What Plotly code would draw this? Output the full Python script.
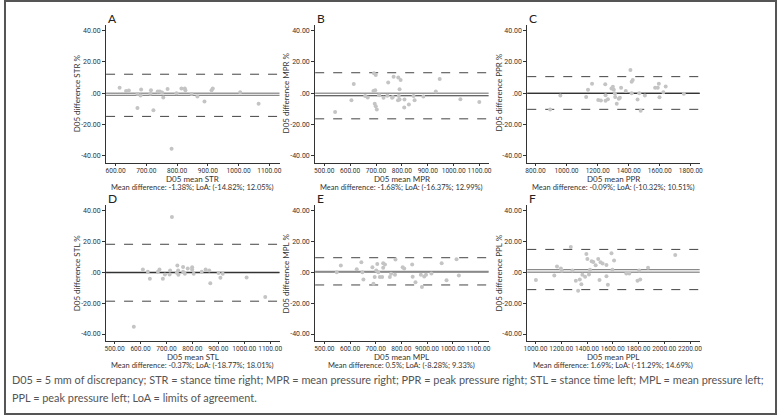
import plotly.graph_objects as go

# values (mean of the two measures, difference in %)
str_mean = [613, 634, 643, 671, 671, 683, 681, 715, 713, 723, 737, 744, 751, 755, 769, 782,
            798, 814, 825, 827, 847, 866, 889, 912, 916, 1005, 1065]
str_diff = [3.4, 1.3, 1.7, -9.4, -0.6, 2.3, -1.5, 1.9, -0.4, -10.9, 1.1, 1.1, 0.4, -2.8, 2.6, -35.5,
            0.0, 3.0, 3.0, 1.9, -0.6, -2.1, -5.3, 1.9, 3.0, 0.6, -6.8]

mpr_mean = [542, 605, 614, 658, 668, 690, 692, 699, 695, 699, 703, 697, 712, 729, 744, 747, 762, 768,
            765, 786, 795, 785, 791, 788, 791, 810, 809, 827, 845, 849, 883, 931, 946, 1026, 1099]
mpr_diff = [-12.0, -4.5, 5.8, -1.9, -2.8, 1.3, 12.7, 11.6, -6.7, -8.4, -10.5, 1.9, -1.3, -3.0, -1.7, 6.7,
            -3.0, 10.5, -2.4, 9.9, 8.4, -4.5, 2.4, -1.9, -4.1, -4.1, -9.2, -7.3, -1.9, -4.5, -2.1, 1.1,
            9.0, -3.9, -5.6]

ppr_mean = [894, 960, 1126, 1138, 1164, 1204, 1221, 1249, 1251, 1251, 1266, 1289, 1298, 1304, 1311, 1313,
            1336, 1343, 1323, 1351, 1381, 1411, 1419, 1426, 1419, 1457, 1468, 1477, 1504, 1570, 1587,
            1594, 1598, 1623, 1638, 1755]
ppr_diff = [-10.5, -1.5, -2.4, 2.1, 6.0, -4.3, -4.7, 5.6, -1.3, -4.9, -3.9, 3.0, 4.1, 2.1, -0.2, -2.4,
            -3.6, -3.0, -6.7, 3.4, 1.3, 14.8, 7.3, 8.4, 0.0, -4.1, 0.0, -11.2, -1.5, 3.4, 3.4, 6.0, -2.6,
            0.6, 4.3, -0.4]

stl_mean = [574, 609, 628, 636, 667, 673, 686, 694, 712, 714, 721, 740, 742, 746, 745, 764, 764, 771,
            782, 799, 799, 805, 836, 851, 865, 869, 901, 908, 917, 1009, 1081]
stl_diff = [-35.3, 1.7, 0.2, -4.3, 0.2, 1.7, -4.3, -1.5, -1.5, 1.1, 35.7, -0.4, 4.3, -1.7, 1.1, 3.4, 0.2,
            -1.1, 2.4, 3.2, 1.7, -1.1, 0.2, 1.7, 1.1, -7.1, -0.6, -3.6, -1.1, -3.4, -16.0]

mpl_mean = [548, 564, 626, 644, 648, 652, 687, 691, 696, 702, 706, 710, 716, 725, 729, 729, 736, 755,
            760, 777, 775, 805, 811, 842, 844, 855, 876, 880, 889, 896, 917, 957, 976, 1015, 1024]
mpl_diff = [0.0, 4.3, 1.9, 6.4, 0.0, -4.7, 3.2, -7.5, -3.2, 1.1, 5.3, 0.0, -3.2, -3.2, 2.8, 5.8, 4.9,
            -3.2, -1.1, 8.1, -1.7, 3.2, 2.4, 4.9, -3.0, -6.6, -1.7, -9.6, -2.8, -1.7, -0.9, 5.8, -5.3,
            8.3, -2.1]

ppl_mean = [1003, 1146, 1167, 1197, 1205, 1274, 1287, 1313, 1344, 1356, 1364, 1385, 1331, 1395, 1403,
            1415, 1423, 1436, 1449, 1467, 1487, 1497, 1505, 1521, 1551, 1551, 1562, 1590, 1597, 1610,
            1705, 1728, 1792, 1813, 1805, 1874, 2085]
ppl_diff = [-5.1, -2.1, 3.6, 2.4, 0.9, 16.2, 1.1, -5.6, -4.7, -7.9, -1.7, -3.0, -12.0, 11.8, 8.5, -1.5,
            1.5, 7.1, 6.6, 4.5, 8.5, -5.1, 6.4, 5.6, 4.7, -2.6, -8.1, 12.2, 1.5, 7.5, -0.9, -0.9, -5.6,
            -4.7, 1.1, 2.8, 11.1]

letters = ['A', 'B', 'C', 'D', 'E', 'F']
names = ['STR', 'MPR', 'PPR', 'STL', 'MPL', 'PPL']
mean_diff = [-1.38, -1.68, -0.09, -0.37, 0.5, 1.69]
loa_low = [-14.82, -16.37, -10.32, -18.77, -8.28, -11.29]
loa_high = [12.05, 12.99, 10.51, 18.01, 9.33, 14.69]

y_ticks = [-40, -20, 0, 20, 40]
y_tick_labels = ['-40.00', '-20.00', '.00', '20.00', '40.00']
x_ticks = [
    [600, 700, 800, 900, 1000, 1100],
    [500, 600, 700, 800, 900, 1000, 1100],
    [800, 1000, 1200, 1400, 1600, 1800],
    [500, 600, 700, 800, 900, 1000, 1100],
    [500, 600, 700, 800, 900, 1000, 1100],
    [1000, 1200, 1400, 1600, 1800, 2000, 2200],
]
x_tick_labels = [['%.2f' % v for v in t] for t in x_ticks]
x_tick_labels[4][4] = '9000.00'  # typo kept as printed

xs = [str_mean, mpr_mean, ppr_mean, stl_mean, mpl_mean, ppl_mean]
ys = [str_diff, mpr_diff, ppr_diff, stl_diff, mpl_diff, ppl_diff]

W, H = 780, 415
FONT = 'Lato'
TICKFONT = 'Roboto'
TXT = '#333'

# pixel boxes of the panels: (left, right), (top, bottom)
cols = [(103, 278), (314, 489), (528, 702)]
rows = [(25, 163), (205, 341)]
x_ranges = [[569, 1133], [465, 1135], [747, 1857], [467, 1136], [464, 1140], [936, 2275]]
mean_colors = ['#8a8a8a', '#333', '#333', '#333', '#8a8a8a', '#8a8a8a']

fig = go.Figure()
layout = dict(
    width=W, height=H,
    margin=dict(l=0, r=0, t=0, b=0),
    paper_bgcolor='white', plot_bgcolor='white',
    showlegend=False,
    font=dict(family=FONT, color=TXT),
)
shapes = []
annotations = []

for i in range(6):
    n = '' if i == 0 else str(i + 1)
    (x0, x1) = cols[i % 3]
    (y0, y1) = rows[i // 3]
    cx = (x0 + x1) / 2

    fig.add_trace(go.Scatter(
        x=xs[i], y=ys[i], mode='markers',
        marker=dict(color='#c4c4c4', size=4),
        xaxis='x' + n, yaxis='y' + n,
    ))

    layout['xaxis' + n] = dict(
        domain=[x0 / W, x1 / W], anchor='y' + n, range=x_ranges[i],
        tickvals=x_ticks[i], ticktext=x_tick_labels[i], tickangle=0,
        showgrid=False, zeroline=False, showline=True, linecolor='#333', linewidth=1,
        ticks='outside', ticklen=2, tickcolor='#333', ticklabelstandoff=-1,
        tickfont=dict(size=6.6, color=TXT, family=TICKFONT),
    )
    layout['yaxis' + n] = dict(
        domain=[1 - y1 / H, 1 - y0 / H], anchor='x' + n, range=[-44.5, 43.4],
        tickvals=y_ticks, ticktext=y_tick_labels,
        showgrid=False, zeroline=False, showline=True, linecolor='#333', linewidth=1,
        ticks='outside', ticklen=3, tickcolor='#333',
        tickfont=dict(size=7, color=TXT, family=TICKFONT),
    )

    xr = 'x' + n + ' domain'
    yr = 'y' + n
    shapes.append(dict(type='line', xref=xr, yref=yr, x0=0, x1=1, y0=0, y1=0,
                       line=dict(color='#9a9a9a', width=1.5), layer='below'))
    shapes.append(dict(type='line', xref=xr, yref=yr, x0=0, x1=1,
                       y0=mean_diff[i], y1=mean_diff[i],
                       line=dict(color=mean_colors[i], width=1.2), layer='below'))
    for v in (loa_low[i], loa_high[i]):
        shapes.append(dict(type='line', xref=xr, yref=yr, x0=0, x1=1, y0=v, y1=v,
                           line=dict(color='#444', width=1, dash='dash'), layer='below'))

    # panel letter
    annotations.append(dict(text=letters[i], x=x0 / W, y=1 - (y0 - 6) / H,
                            xref='paper', yref='paper', xanchor='left', yanchor='middle',
                            showarrow=False, font=dict(size=12, color='#222', family=FONT)))
    # y title
    annotations.append(dict(text='D05 difference %s %%' % names[i], textangle=-90,
                            x=(x0 - 29) / W, y=1 - (y0 + 68) / H,
                            xref='paper', yref='paper', xanchor='center', yanchor='middle',
                            showarrow=False, font=dict(size=8, color=TXT, family=FONT)))
    # x title
    annotations.append(dict(text='D05 mean %s' % names[i], x=cx / W, y=1 - (y1 + 16) / H,
                            xref='paper', yref='paper', xanchor='center', yanchor='middle',
                            showarrow=False, font=dict(size=8, color=TXT, family=FONT)))
    # summary line
    annotations.append(dict(
        text='Mean difference: %s%%; LoA: (%s%%; %s%%)' % (mean_diff[i], loa_low[i], loa_high[i]),
        x=cx / W, y=1 - (y1 + 24.5) / H,
        xref='paper', yref='paper', xanchor='center', yanchor='middle',
        showarrow=False, font=dict(size=7.5, color=TXT, family=FONT)))

caption = [
    'D05 = 5 mm of discrepancy; STR = stance time right; MPR = mean pressure right; '
    'PPR = peak pressure right; STL = stance time left; MPL = mean pressure left;',
    'PPL = peak pressure left; LoA = limits of agreement.',
]
for k, line in enumerate(caption):
    annotations.append(dict(text=line, x=6 / W, y=1 - (379 + 18 * k) / H,
                            xref='paper', yref='paper', xanchor='left', yanchor='middle',
                            showarrow=False, font=dict(size=10.9, color='#555', family=FONT)))

# outer frame
shapes.append(dict(type='rect', xref='paper', yref='paper', x0=1 / W, x1=1 - 1 / W,
                   y0=1 / H, y1=1 - 1 / H, line=dict(color='#555', width=2)))

layout['shapes'] = shapes
layout['annotations'] = annotations
fig.update_layout(**layout)

# the page body has a default 8px margin; drop it so the figure sits at the corner
fig.write_html('out.html', config={'displayModeBar': False},
               post_script="document.body.style.margin='0';")
